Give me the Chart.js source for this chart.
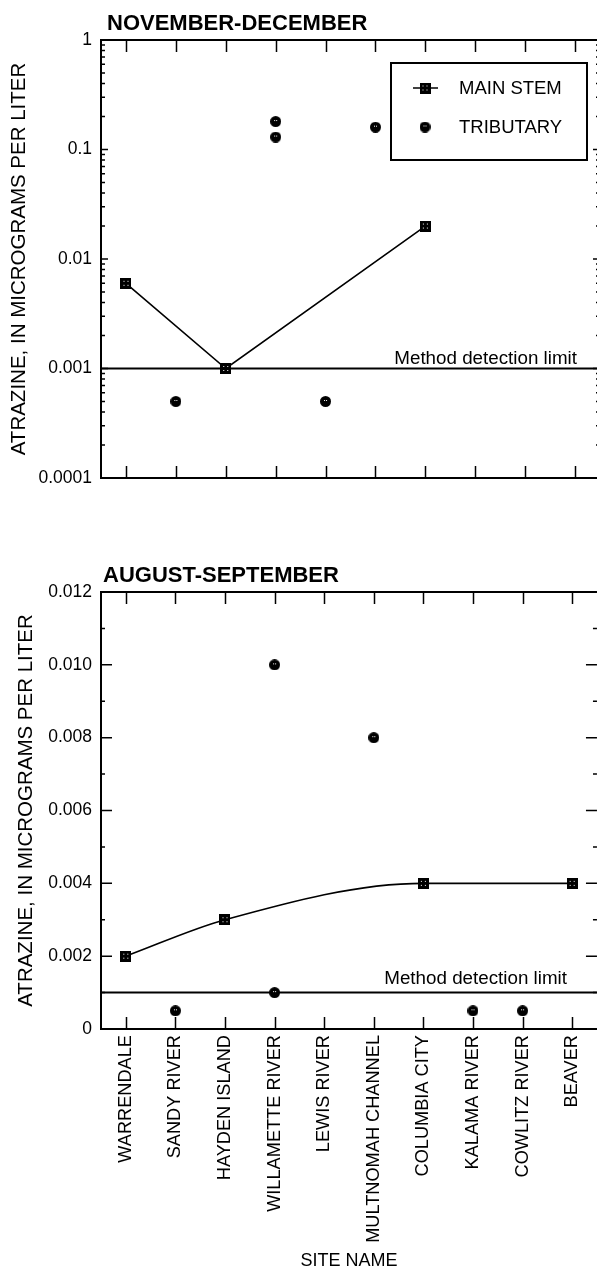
<!DOCTYPE html>
<html>
<head>
<meta charset="utf-8">
<title>Atrazine at Columbia River sites</title>
<script src="https://cdn.jsdelivr.net/npm/chart.js@4/dist/chart.umd.min.js"></script>
<style>
  html, body { margin: 0; padding: 0; background: #fff; overflow: hidden; width: 597px; height: 1272px; }
  .panel { position: absolute; left: 0; }
  .panel canvas { display: block; }
  .title { position: absolute; z-index: 2; font: bold 22px "Liberation Sans", Arial, sans-serif; color: #000; white-space: nowrap; }
</style>
</head>
<body>
<div class="panel" style="top:0;"><canvas id="novChart" width="600" height="500"></canvas></div>
<div class="panel" style="top:540px;"><canvas id="augChart" width="600" height="732"></canvas></div>
<div class="title" style="left:107px; top:10px;">NOVEMBER-DECEMBER</div>
<div class="title" style="left:103px; top:562px;">AUGUST-SEPTEMBER</div>
<script>
const SITES = ['WARRENDALE', 'SANDY RIVER', 'HAYDEN ISLAND', 'WILLAMETTE RIVER', 'LEWIS RIVER',
  'MULTNOMAH CHANNEL', 'COLUMBIA CITY', 'KALAMA RIVER', 'COWLITZ RIVER', 'BEAVER'];

// November-December (log scale)
const NOV_MAIN_STEM = [0.006, null, 0.001, null, null, null, 0.02, null, null, null];
const NOV_TRIB_SITES = ['SANDY RIVER', 'WILLAMETTE RIVER', 'WILLAMETTE RIVER', 'LEWIS RIVER', 'MULTNOMAH CHANNEL'];
const NOV_TRIB_VALUES = [0.0005, 0.18, 0.13, 0.0005, 0.16];
const NOV_TICKS = [0.0001, 0.001, 0.01, 0.1, 1];
const NOV_TICK_LABELS = ['0.0001', '0.001', '0.01', '0.1', '1'];

// August-September (linear scale)
const AUG_MAIN_STEM = [0.002, null, 0.003, null, null, null, 0.004, null, null, 0.004];
const AUG_TRIB_SITES = ['SANDY RIVER', 'WILLAMETTE RIVER', 'WILLAMETTE RIVER', 'MULTNOMAH CHANNEL', 'KALAMA RIVER', 'COWLITZ RIVER'];
const AUG_TRIB_VALUES = [0.0005, 0.010, 0.001, 0.008, 0.0005, 0.0005];
const AUG_TICKS = [0, 0.002, 0.004, 0.006, 0.008, 0.010, 0.012];
const AUG_TICK_LABELS = ['0', '0.002', '0.004', '0.006', '0.008', '0.010', '0.012'];

const DETECTION_LIMIT = 0.001;
const FONT = '"Liberation Sans", Arial, Helvetica, sans-serif';

Chart.defaults.font.family = FONT;
Chart.defaults.color = '#000';

// speckled markers, like the printed symbols
function squareMarker() {
  const c = document.createElement('canvas');
  c.width = 11; c.height = 11;
  const g = c.getContext('2d');
  g.fillStyle = '#000';
  g.fillRect(0, 0, 11, 11);
  g.fillStyle = '#fff';
  [[3, 3], [7, 3], [3, 7], [7, 7]].forEach(p => g.fillRect(p[0], p[1], 1, 1));
  return c;
}
function circleMarker() {
  const c = document.createElement('canvas');
  c.width = 11; c.height = 11;
  const g = c.getContext('2d');
  g.fillStyle = '#000';
  g.beginPath();
  g.arc(5.5, 5.5, 5.5, 0, Math.PI * 2);
  g.fill();
  g.fillStyle = '#fff';
  g.fillRect(4, 4, 1, 1);
  g.fillRect(6, 4, 1, 1);
  return c;
}
const SQUARE = squareMarker();
const CIRCLE = circleMarker();

// frame, inward ticks and detection-limit line
const framePlugin = {
  id: 'frame',
  beforeDatasetsDraw(chart, args, opts) {
    const { ctx, chartArea: a, scales: { x, y } } = chart;
    ctx.save();
    ctx.strokeStyle = '#000';
    ctx.fillStyle = '#000';

    const yl = y.getPixelForValue(DETECTION_LIMIT);
    ctx.lineWidth = 2;
    ctx.beginPath();
    ctx.moveTo(a.left, yl);
    ctx.lineTo(a.right, yl);
    ctx.stroke();
    ctx.font = '18.8px ' + FONT;
    ctx.textAlign = 'right';
    ctx.textBaseline = 'alphabetic';
    ctx.fillText('Method detection limit', a.right - opts.labelRight, yl - opts.labelRaise);

    ctx.beginPath();
    ctx.moveTo(a.right, a.top);
    ctx.lineTo(a.left, a.top);
    ctx.lineTo(a.left, a.bottom);
    ctx.lineTo(a.right, a.bottom);
    ctx.stroke();

    ctx.lineWidth = 1.5;
    SITES.forEach((s, i) => {
      const px = Math.round(x.getPixelForValue(i)) + 0.5;
      ctx.beginPath();
      ctx.moveTo(px, a.bottom);
      ctx.lineTo(px, a.bottom - 12);
      ctx.moveTo(px, a.top);
      ctx.lineTo(px, a.top + 12);
      ctx.stroke();
    });

    const yTick = (v, len) => {
      const py = y.getPixelForValue(v);
      ctx.beginPath();
      ctx.moveTo(a.left, py);
      ctx.lineTo(a.left + len, py);
      ctx.moveTo(a.right, py);
      ctx.lineTo(a.right - len, py);
      ctx.stroke();
    };
    opts.major.forEach(v => yTick(v, opts.majorLen));
    opts.minor.forEach(v => yTick(v, 4));
    ctx.restore();
  }
};

// boxed legend inside the top panel
const boxLegend = {
  id: 'boxLegend',
  afterDraw(chart, args, opts) {
    if (!opts.show) return;
    const { ctx, chartArea: a } = chart;
    const left = a.right - 209, top = a.top + 23, w = 196, h = 97;
    ctx.save();
    ctx.fillStyle = '#fff';
    ctx.fillRect(left, top, w, h);
    ctx.strokeStyle = '#000';
    ctx.lineWidth = 2;
    ctx.strokeRect(left, top, w, h);
    ctx.font = '18.5px ' + FONT;
    ctx.fillStyle = '#000';
    ctx.textAlign = 'left';
    ctx.textBaseline = 'middle';
    chart.data.datasets.forEach((ds, i) => {
      const cy = top + 25 + i * 39;
      const cx = left + 34;
      if (ds.showLine !== false) {
        ctx.lineWidth = 1.5;
        ctx.beginPath();
        ctx.moveTo(cx - 12, cy);
        ctx.lineTo(cx + 13, cy);
        ctx.stroke();
      }
      ctx.drawImage(ds.pointStyle, cx - 5.5, cy - 5.5);
      ctx.fillText(ds.label, left + 68, cy + 1);
    });
    ctx.restore();
  }
};

function datasets(mainStem, tribSites, tribValues, smooth) {
  return [
    {
      label: 'MAIN STEM',
      data: mainStem,
      borderColor: '#000',
      borderWidth: 1.6,
      spanGaps: true,
      tension: 0,
      cubicInterpolationMode: smooth ? 'monotone' : 'default',
      pointStyle: SQUARE,
      pointRadius: 6
    },
    {
      label: 'TRIBUTARY',
      data: tribSites.map((s, i) => ({ x: s, y: tribValues[i] })),
      showLine: false,
      pointStyle: CIRCLE,
      pointRadius: 6
    }
  ];
}

const yTitle = (pad) => ({
  display: true,
  text: 'ATRAZINE, IN MICROGRAMS PER LITER',
  font: { size: 20.5 },
  padding: { top: pad, bottom: 0 }
});

// November-December
const novMinor = [];
NOV_TICKS.slice(0, -1).forEach(d => {
  for (let k = 2; k <= 9; k++) novMinor.push(d * k);
});

new Chart(document.getElementById('novChart'), {
  type: 'line',
  data: { labels: SITES, datasets: datasets(NOV_MAIN_STEM, NOV_TRIB_SITES, NOV_TRIB_VALUES, false) },
  options: {
    responsive: false,
    animation: false,
    layout: { autoPadding: false, padding: { top: 40, left: 0, right: 0, bottom: 0 } },
    plugins: {
      legend: { display: false },
      tooltip: { enabled: false },
      frame: { major: NOV_TICKS, minor: novMinor, majorLen: 7, labelRight: 23, labelRaise: 5 },
      boxLegend: { show: true }
    },
    scales: {
      x: {
        type: 'category',
        offset: true,
        grid: { display: false, drawTicks: false },
        border: { display: false },
        ticks: { display: false },
        afterFit: s => { s.height = 22; }
      },
      y: {
        type: 'logarithmic',
        min: 0.0001,
        max: 1,
        grid: { display: false, drawTicks: false },
        border: { display: false },
        afterBuildTicks: s => { s.ticks = NOV_TICKS.map(v => ({ value: v })); },
        ticks: { padding: 9, font: { size: 17.5 }, callback: (v, i) => NOV_TICK_LABELS[i] },
        title: yTitle(7),
        afterFit: s => { s.width = 101; }
      }
    }
  },
  plugins: [framePlugin, boxLegend]
});

// August-September
const augMinor = AUG_TICKS.slice(0, -1).map((v, i) => (v + AUG_TICKS[i + 1]) / 2);

new Chart(document.getElementById('augChart'), {
  type: 'line',
  data: { labels: SITES, datasets: datasets(AUG_MAIN_STEM, AUG_TRIB_SITES, AUG_TRIB_VALUES, true) },
  options: {
    responsive: false,
    animation: false,
    layout: { autoPadding: false, padding: { top: 52, left: 0, right: 0, bottom: 0 } },
    plugins: {
      legend: { display: false },
      tooltip: { enabled: false },
      frame: { major: AUG_TICKS, minor: augMinor, majorLen: 11, labelRight: 30, labelRaise: 9 },
      boxLegend: { show: false }
    },
    scales: {
      x: {
        type: 'category',
        offset: true,
        grid: { display: false, drawTicks: false },
        border: { display: false },
        ticks: { minRotation: 90, maxRotation: 90, autoSkip: false, padding: 6, font: { size: 18.2 } },
        title: { display: true, text: 'SITE NAME', font: { size: 18 }, padding: { top: 4, bottom: 0 } },
        afterFit: s => { s.height = 243; }
      },
      y: {
        type: 'linear',
        min: 0,
        max: 0.012,
        grid: { display: false, drawTicks: false },
        border: { display: false },
        afterBuildTicks: s => { s.ticks = AUG_TICKS.map(v => ({ value: v })); },
        ticks: { padding: 9, font: { size: 17.5 }, callback: (v, i) => AUG_TICK_LABELS[i] },
        title: yTitle(14),
        afterFit: s => { s.width = 101; }
      }
    }
  },
  plugins: [framePlugin, boxLegend]
});
</script>
</body>
</html>
